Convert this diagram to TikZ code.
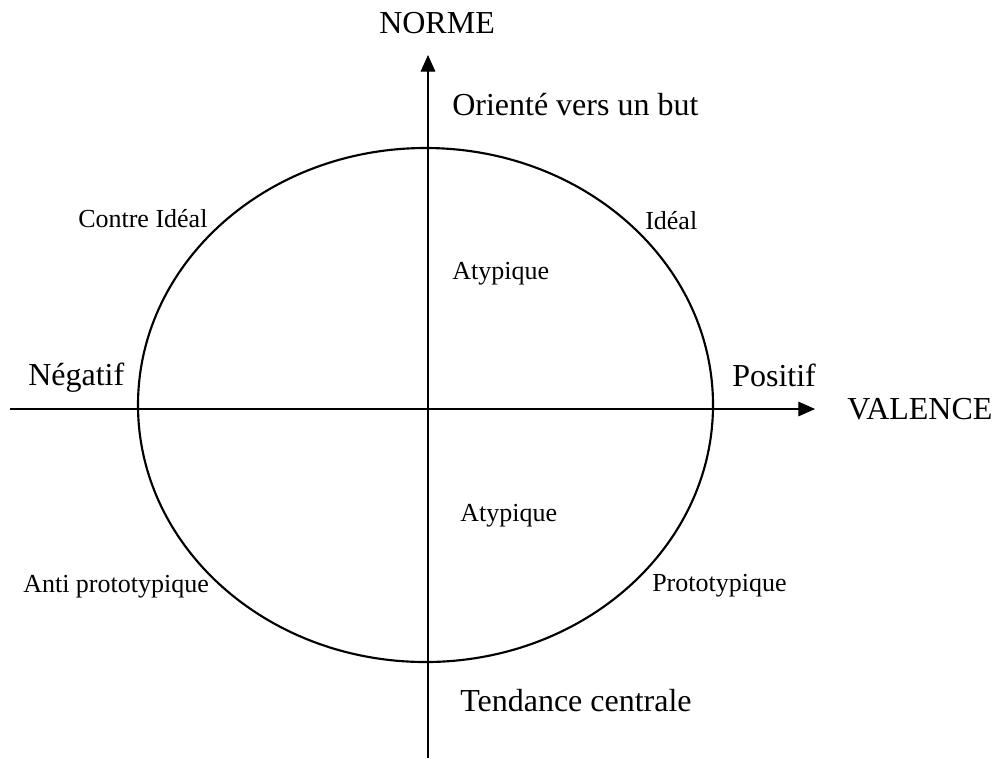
\documentclass[tikz,border=0pt]{standalone}
\usepackage{fontspec}
\setmainfont{Liberation Serif}
\usetikzlibrary{positioning, arrows.meta}

\begin{document}
\begin{tikzpicture}[x=0.75pt, y=-0.75pt]
      % Define styles for nodes
      \tikzset{
        biglabel/.style={anchor=base west, inner sep=0pt, font=\fontsize{24}{28}\selectfont},
        smalllabel/.style={anchor=base west, inner sep=0pt, font=\fontsize{19.5}{23}\selectfont},
        axis/.style={line width=0.8pt, -{Triangle[length=12.5pt, width=11pt]}},
        oval/.style={line width=1.6pt}
      }
      \useasboundingbox (0,0) rectangle (998,758);

      % Axes end points
      \coordinate (vbot) at (428,758);
      \coordinate (vtop) at (428,55);
      \coordinate (hleft) at (10,409);
      \coordinate (hright) at (815,409);

      % Draw the axes and the ellipse
      \draw[axis] (vbot) -- (vtop);
      \draw[axis] (hleft) -- (hright);
      \draw[oval] (425.5,405) ellipse [x radius=287.5, y radius=257];

      % Axis names
      \node[biglabel] (norme) at (379,33) {NORME};
      \node[biglabel] (valence) at (847,419) {VALENCE};

      % Poles of the axes
      \node[biglabel] (but) at (452,115) {Orienté vers un but};
      \node[biglabel] (tendance) at (460,711) {Tendance centrale};
      \node[biglabel] (negatif) at (28,385) {Négatif};
      \node[biglabel] (positif) at (732,386) {Positif};

      % Add labels in the quadrants
      \node[smalllabel] (contre) at (78,227) {Contre Idéal};
      \node[smalllabel] (ideal) at (645,229) {Idéal};
      \node[smalllabel] (atyphaut) at (452,279) {Atypique};
      \node[smalllabel] (atypbas) at (460,521) {Atypique};
      \node[smalllabel] (anti) at (23,592) {Anti prototypique};
      \node[smalllabel] (proto) at (652,591) {Prototypique};
    \end{tikzpicture}
\end{document}
